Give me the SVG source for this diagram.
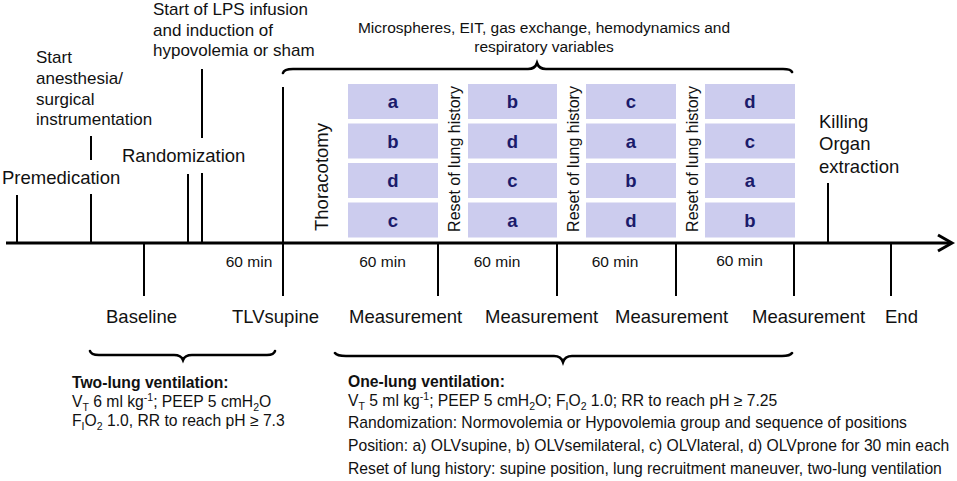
<svg xmlns="http://www.w3.org/2000/svg" width="957" height="481" viewBox="0 0 957 481">
<style>
text{font-family:"Liberation Sans",Arial,sans-serif;fill:#111;}
.lbl{font-size:17px;}
.big{font-size:18.5px;}
.sm{font-size:15.5px;}
.note{font-size:15.7px;}
.b{font-weight:bold;}
.box{fill:#CCCCEE;}
.let{font-size:18.5px;font-weight:bold;fill:#1B1B6B;text-anchor:middle;}
.tick{stroke:#000;stroke-width:2;fill:none;}
.brace{stroke:#000;stroke-width:2.6;fill:none;stroke-linecap:round;}
.mid{text-anchor:middle;}
</style>
<rect width="957" height="481" fill="#fff"/>
<g id="connectors">
  <line x1="6" y1="243" x2="950" y2="243" stroke="#000" stroke-width="3"/>
  <polyline points="938,235 952,243 938,251" fill="none" stroke="#000" stroke-width="3"/>
  <line class="tick" x1="17" y1="195" x2="17" y2="243"/>
  <line class="tick" x1="91" y1="136" x2="91" y2="160"/>
  <line class="tick" x1="91" y1="194" x2="91" y2="243"/>
  <line class="tick" x1="188" y1="174" x2="188" y2="243"/>
  <line class="tick" x1="202" y1="69" x2="202" y2="138"/>
  <line class="tick" x1="202" y1="173" x2="202" y2="243"/>
  <line class="tick" x1="283" y1="87" x2="283" y2="243"/>
  <line class="tick" x1="828" y1="183" x2="828" y2="243"/>
  <line class="tick" x1="144" y1="243" x2="144" y2="296"/>
  <line class="tick" x1="283" y1="243" x2="283" y2="296"/>
  <line class="tick" x1="438" y1="243" x2="438" y2="296"/>
  <line class="tick" x1="557" y1="243" x2="557" y2="296"/>
  <line class="tick" x1="676" y1="243" x2="676" y2="296"/>
  <line class="tick" x1="794" y1="243" x2="794" y2="296"/>
  <line class="tick" x1="891" y1="243" x2="891" y2="296"/>
  <path class="brace" d="M283,73 Q284,69 293,69 L528,69 Q535,69 537,63 Q539,69 546,69 L783,69 Q791,69 792,72"/>
  <path class="brace" d="M90,351 Q91,355 99,355 L174,355 Q181,355 183,360 Q185,355 192,355 L267,355 Q274,355 275,351"/>
  <path class="brace" d="M335,353 Q337,356 346,356 L554,356 Q561,356 563,362 Q565,356 572,356 L782,356 Q790,356 792,353"/>
</g>
<g id="top-labels">
  <text class="big" x="2" y="184">Premedication</text>
  <text class="lbl" x="36" y="63">Start</text>
  <text class="lbl" x="36" y="84">anesthesia/</text>
  <text class="lbl" x="36" y="105">surgical</text>
  <text class="lbl" x="36" y="125">instrumentation</text>
  <text class="big" x="122" y="162">Randomization</text>
  <text class="lbl" x="153" y="15">Start of LPS infusion</text>
  <text class="lbl" x="153" y="36">and induction of</text>
  <text class="lbl" x="153" y="56">hypovolemia or sham</text>
  <text class="sm mid" x="544" y="33">Microspheres, EIT, gas exchange, hemodynamics and</text>
  <text class="sm mid" x="544" y="52">respiratory variables</text>
  <text class="big mid" transform="translate(328,177) rotate(-90)">Thoracotomy</text>
  <text class="big" x="819" y="128">Killing</text>
  <text class="big" x="819" y="150">Organ</text>
  <text class="big" x="819" y="173">extraction</text>
</g>
<g id="boxes">
  <g id="col1">
    <rect class="box" x="348" y="84" width="90" height="35"/>
    <rect class="box" x="348" y="123.5" width="90" height="35"/>
    <rect class="box" x="348" y="163" width="90" height="35"/>
    <rect class="box" x="348" y="202.5" width="90" height="35"/>
    <text class="let" x="393" y="108">a</text>
    <text class="let" x="393" y="147.5">b</text>
    <text class="let" x="393" y="187">d</text>
    <text class="let" x="393" y="226.5">c</text>
  </g>
  <g id="col2">
    <rect class="box" x="468" y="84" width="89" height="35"/>
    <rect class="box" x="468" y="123.5" width="89" height="35"/>
    <rect class="box" x="468" y="163" width="89" height="35"/>
    <rect class="box" x="468" y="202.5" width="89" height="35"/>
    <text class="let" x="512.5" y="108">b</text>
    <text class="let" x="512.5" y="147.5">d</text>
    <text class="let" x="512.5" y="187">c</text>
    <text class="let" x="512.5" y="226.5">a</text>
  </g>
  <g id="col3">
    <rect class="box" x="586" y="84" width="90" height="35"/>
    <rect class="box" x="586" y="123.5" width="90" height="35"/>
    <rect class="box" x="586" y="163" width="90" height="35"/>
    <rect class="box" x="586" y="202.5" width="90" height="35"/>
    <text class="let" x="631" y="108">c</text>
    <text class="let" x="631" y="147.5">a</text>
    <text class="let" x="631" y="187">b</text>
    <text class="let" x="631" y="226.5">d</text>
  </g>
  <g id="col4">
    <rect class="box" x="705" y="84" width="90" height="35"/>
    <rect class="box" x="705" y="123.5" width="90" height="35"/>
    <rect class="box" x="705" y="163" width="90" height="35"/>
    <rect class="box" x="705" y="202.5" width="90" height="35"/>
    <text class="let" x="750" y="108">d</text>
    <text class="let" x="750" y="147.5">c</text>
    <text class="let" x="750" y="187">a</text>
    <text class="let" x="750" y="226.5">b</text>
  </g>
  <text class="lbl mid" style="font-size:16px" transform="translate(460,159) rotate(-90)">Reset of lung history</text>
  <text class="lbl mid" style="font-size:16px" transform="translate(579,159) rotate(-90)">Reset of lung history</text>
  <text class="lbl mid" style="font-size:16px" transform="translate(698,159) rotate(-90)">Reset of lung history</text>
</g>
<g id="durations">
  <text class="sm mid" x="249" y="267">60 min</text>
  <text class="sm mid" x="382.5" y="267">60 min</text>
  <text class="sm mid" x="497" y="267">60 min</text>
  <text class="sm mid" x="615" y="267">60 min</text>
  <text class="sm mid" x="739.5" y="266">60 min</text>
</g>
<g id="bottom-labels">
  <text class="big" x="106" y="323">Baseline</text>
  <text class="big" x="232" y="323">TLVsupine</text>
  <text class="big" x="349" y="323">Measurement</text>
  <text class="big" x="485" y="323">Measurement</text>
  <text class="big" x="615" y="323">Measurement</text>
  <text class="big" x="752" y="323">Measurement</text>
  <text class="big" x="885" y="323">End</text>
</g>
<g id="two-lung">
  <text class="note b" x="72" y="388">Two-lung ventilation:</text>
  <text class="note" x="72" y="407">V<tspan font-size="10.5" dy="4">T</tspan><tspan dy="-4"> 6 ml kg</tspan><tspan font-size="10.5" dy="-6">-1</tspan><tspan dy="6">; PEEP 5 cmH</tspan><tspan font-size="10.5" dy="4">2</tspan><tspan dy="-4">O</tspan></text>
  <text class="note" x="72" y="426">F<tspan font-size="10.5" dy="4">I</tspan><tspan dy="-4">O</tspan><tspan font-size="10.5" dy="4">2</tspan><tspan dy="-4"> 1.0, RR to reach pH ≥ 7.3</tspan></text>
</g>
<g id="one-lung">
  <text class="note b" x="348" y="387">One-lung ventilation:</text>
  <text class="note" x="348" y="406">V<tspan font-size="10.5" dy="4">T</tspan><tspan dy="-4"> 5 ml kg</tspan><tspan font-size="10.5" dy="-6">-1</tspan><tspan dy="6">; PEEP 5 cmH</tspan><tspan font-size="10.5" dy="4">2</tspan><tspan dy="-4">O; F</tspan><tspan font-size="10.5" dy="4">I</tspan><tspan dy="-4">O</tspan><tspan font-size="10.5" dy="4">2</tspan><tspan dy="-4"> 1.0; RR to reach pH ≥ 7.25</tspan></text>
  <text class="note" x="348" y="428">Randomization: Normovolemia or Hypovolemia group and sequence of positions</text>
  <text class="note" x="348" y="451">Position: a) OLVsupine, b) OLVsemilateral, c) OLVlateral, d) OLVprone for 30 min each</text>
  <text class="note" x="348" y="474">Reset of lung history: supine position, lung recruitment maneuver, two-lung ventilation</text>
</g>
</svg>
